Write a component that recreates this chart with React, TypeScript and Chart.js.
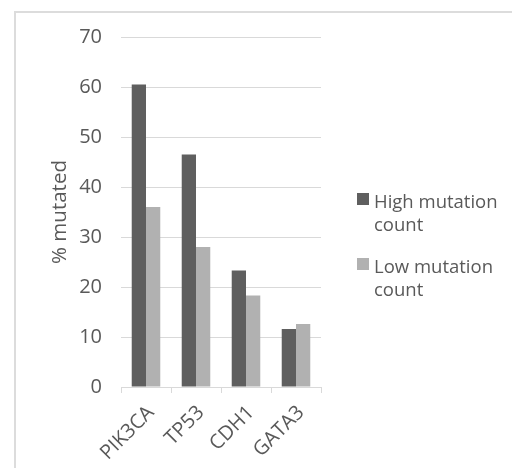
import React, { useEffect, useRef } from "react";
import { Chart, registerables } from "chart.js";

Chart.register(...registerables);

// Genes on the category axis
const genes = ["PIK3CA", "TP53", "CDH1", "GATA3"];
// Percentage of samples mutated, per group
const highMutationCount = [60.5, 46.5, 23.3, 11.6];
const lowMutationCount = [36.0, 28.0, 18.3, 12.6];
const seriesLabels = ["High mutation count", "Low mutation count"];
const seriesColors = ["#5f5f5f", "#b1b1b1"];
const yTicks = { min: 0, max: 70, step: 10 };

const FONT = "'Open Sans', 'Noto Sans', sans-serif";
const TEXT = "#595959";
const GRID = "#d9d9d9";

// Outer frame of the chart object (extends past the right/bottom edges)
const framePlugin = {
  id: "frame",
  beforeDraw(chart: Chart) {
    const { ctx } = chart;
    ctx.save();
    ctx.strokeStyle = "#dcdcdc";
    ctx.lineWidth = 2;
    ctx.strokeRect(15, 12, 700, 700);
    ctx.restore();
  },
};

// Legend at the right, labels wrapped onto two lines
const sideLegendPlugin = {
  id: "sideLegend",
  afterDraw(chart: Chart) {
    const { ctx } = chart;
    ctx.save();
    ctx.font = `18.5px ${FONT}`;
    ctx.fillStyle = TEXT;
    ctx.textBaseline = "alphabetic";
    ctx.textAlign = "left";
    const x0 = 357;
    const textX = 374;
    const maxW = 130;
    const lineGap = 23;
    const starts = [208, 273];
    chart.data.datasets.forEach((ds, i) => {
      const words = String(ds.label).split(" ");
      const lines: string[] = [];
      let cur = "";
      words.forEach((w) => {
        const t = cur ? cur + " " + w : w;
        if (ctx.measureText(t).width > maxW && cur) {
          lines.push(cur);
          cur = w;
        } else cur = t;
      });
      if (cur) lines.push(cur);
      const base = starts[i];
      ctx.fillStyle = ds.backgroundColor as string;
      ctx.fillRect(x0, base - 15, 12, 12);
      ctx.fillStyle = TEXT;
      lines.forEach((ln, k) => ctx.fillText(ln, textX, base + k * lineGap));
    });
    ctx.restore();
  },
};

export default function App() {
  const ref = useRef<HTMLCanvasElement>(null);

  useEffect(() => {
    if (!ref.current) return;
    const chart = new Chart(ref.current, {
      type: "bar",
      data: {
        labels: genes,
        datasets: [
          {
            label: seriesLabels[0],
            data: highMutationCount,
            backgroundColor: seriesColors[0],
            barPercentage: 1,
            categoryPercentage: 0.571,
          },
          {
            label: seriesLabels[1],
            data: lowMutationCount,
            backgroundColor: seriesColors[1],
            barPercentage: 1,
            categoryPercentage: 0.571,
          },
        ],
      },
      options: {
        animation: false,
        responsive: false,
        layout: { padding: { left: 48, top: 37, right: 191, bottom: 0 } },
        plugins: {
          legend: { display: false },
          tooltip: { enabled: false },
        },
        scales: {
          x: {
            grid: {
              drawOnChartArea: false,
              color: GRID,
              tickLength: 6,
              offset: true,
            },
            border: { color: GRID, width: 1 },
            ticks: {
              minRotation: 45,
              maxRotation: 45,
              color: TEXT,
              font: { family: FONT, size: 20 },
              padding: 8,
              labelOffset: 5,
            },
            afterFit: (s: any) => {
              s.height = 81;
            },
          },
          y: {
            min: yTicks.min,
            max: yTicks.max,
            ticks: {
              stepSize: yTicks.step,
              color: TEXT,
              font: { family: FONT, size: 20 },
              padding: 19,
            },
            grid: { color: GRID, drawTicks: false },
            border: { display: false },
            title: {
              display: true,
              text: "% mutated",
              color: TEXT,
              font: { family: FONT, size: 20.5 },
              padding: 0,
            },
            afterFit: (s: any) => {
              s.width = 73;
            },
          },
        },
      },
      plugins: [framePlugin, sideLegendPlugin],
    });
    return () => chart.destroy();
  }, []);

  return (
    <div style={{ position: "fixed", left: 0, top: 0, width: 512, height: 468, background: "#fff" }}>
      <canvas ref={ref} width={512} height={468} style={{ width: 512, height: 468, display: "block" }} />
    </div>
  );
}
